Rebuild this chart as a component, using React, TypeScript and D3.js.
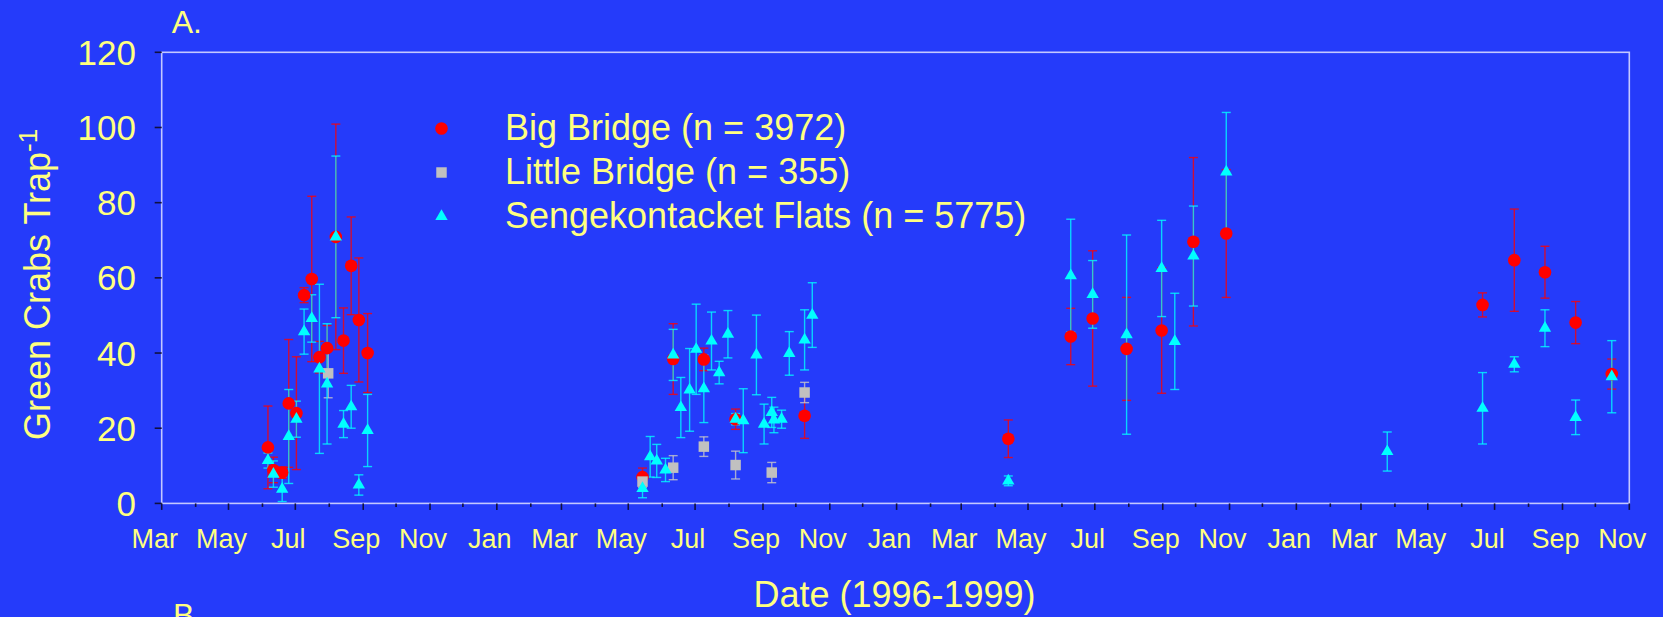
import React, { useEffect } from 'react';
import * as d3 from 'd3';

// Big Bridge
const bbDates = ['1996-06-06', '1996-06-11', '1996-06-19', '1996-06-25', '1996-07-02', '1996-07-09', '1996-07-16', '1996-07-23', '1996-07-30', '1996-08-07', '1996-08-14', '1996-08-21', '1996-08-28', '1996-09-05', '1997-05-14', '1997-06-11', '1997-07-09', '1997-08-07', '1997-10-09', '1998-04-13', '1998-06-09', '1998-06-29', '1998-07-30', '1998-08-31', '1998-09-29', '1998-10-29', '1999-06-20', '1999-07-19', '1999-08-16', '1999-09-13', '1999-10-16'];
const bbMean = [14.9, 8.9, 8.2, 26.6, 24.0, 55.4, 59.7, 38.9, 41.3, 70.9, 43.3, 63.2, 48.8, 40.0, 7.0, 38.4, 38.3, 22.4, 23.3, 17.2, 44.4, 49.2, 41.1, 46.0, 69.6, 71.8, 52.8, 64.7, 61.5, 48.1, 34.4];
const bbErr = [11, 3.4, 1.5, 17, 15, 2, 22, 4.2, 6, 30, 8.7, 13, 16.5, 10.5, 2.4, 9.4, 3, 2.7, 6, 5, 7.5, 18, 13.7, 16.7, 22.4, 17, 3.2, 13.6, 6.9, 5.6, 4];

// Little Bridge
const lbDates = ['1996-07-31', '1997-05-14', '1997-06-11', '1997-07-09', '1997-08-07', '1997-09-09', '1997-10-09'];
const lbMean = [34.6, 5.8, 9.5, 15.1, 10.2, 8.2, 29.5];
const lbErr = [6.5, 1.5, 3.2, 2.6, 3.7, 2.7, 2.7];

// Sengekontacket Flats
const sfDates = ['1996-06-06', '1996-06-11', '1996-06-19', '1996-06-25', '1996-07-02', '1996-07-09', '1996-07-16', '1996-07-23', '1996-07-30', '1996-08-07', '1996-08-14', '1996-08-21', '1996-08-28', '1996-09-05', '1997-05-14', '1997-05-21', '1997-05-27', '1997-06-04', '1997-06-11', '1997-06-18', '1997-06-26', '1997-07-02', '1997-07-09', '1997-07-16', '1997-07-23', '1997-07-31', '1997-08-07', '1997-08-14', '1997-08-26', '1997-09-02', '1997-09-09', '1997-09-11', '1997-09-18', '1997-09-25', '1997-10-09', '1997-10-16', '1998-04-13', '1998-06-09', '1998-06-29', '1998-07-30', '1998-08-31', '1998-09-12', '1998-09-29', '1998-10-29', '1999-03-25', '1999-06-20', '1999-07-19', '1999-08-16', '1999-09-13', '1999-10-16'];
const sfMean = [11.4, 7.8, 3.8, 17.8, 22.4, 45.7, 49.2, 35.8, 31.8, 70.9, 21.1, 25.7, 4.9, 19.4, 4.0, 12.4, 11.3, 8.9, 39.5, 25.5, 30.2, 41.0, 30.5, 43.2, 34.8, 45.0, 22.4, 22.0, 39.5, 21.1, 24.2, 22.2, 22.4, 39.9, 43.5, 50.1, 6.0, 60.6, 55.6, 44.9, 62.5, 43.1, 65.8, 88.2, 13.8, 25.3, 37.0, 46.6, 22.9, 33.7];
const sfErr = [2, 3.5, 3.3, 12.5, 4.8, 6, 6.3, 22.5, 16, 21.5, 3.6, 5.7, 2.7, 9.6, 2.5, 5.4, 4.4, 3.1, 6.8, 8, 11, 12, 9, 7.7, 3, 6.3, 1.5, 8.5, 10.6, 5.3, 4, 3.4, 2.4, 5.8, 8, 8.6, 1.3, 15, 9, 26.5, 12.8, 12.8, 13.3, 15.8, 5.2, 9.5, 2, 4.9, 4.6, 9.6];

const yTicks = [0, 20, 40, 60, 80, 100, 120];
const legendLabels = ['Big Bridge (n = 3972)', 'Little Bridge (n = 355)', 'Sengekontacket Flats (n = 5775)'];

const W = 1663;
const H = 617;
const BG = '#253bfa';
const TXT = '#ffff80';
const FONT = '"Liberation Sans", Arial, sans-serif';
const left = 161.7, right = 1629.3, top = 52.3, bottom = 503.4;

const parse = d3.timeParse('%Y-%m-%d');

const x = d3.scaleTime()
  .domain([new Date(1996, 2, 1), new Date(1999, 10, 1)])
  .range([left, right]);
const y = d3.scaleLinear().domain([0, 120]).range([bottom, top]);

const months = d3.timeMonth.range(new Date(1996, 2, 1), new Date(1999, 10, 2));
const fmtMonth = d3.timeFormat('%b');

const series = [
  { dates: bbDates, mean: bbMean, err: bbErr, fill: '#ff0000', bar: '#ff0000', shape: d3.symbolCircle, size: 125 },
  { dates: lbDates, mean: lbMean, err: lbErr, fill: '#c0c0c0', bar: '#c8c8c8', shape: d3.symbolSquare, size: 110 },
  { dates: sfDates, mean: sfMean, err: sfErr, fill: '#00ffff', bar: '#00ffff', shape: d3.symbolTriangle, size: 66 },
];

const ErrorBars = ({ s }) => (
  <g stroke={s.bar} strokeOpacity={0.78} strokeWidth={1.4}>
    {s.dates.map((d, i) => {
      const cx = x(parse(d));
      const y0 = y(Math.max(0, s.mean[i] - s.err[i]));
      const y1 = y(s.mean[i] + s.err[i]);
      return (
        <g key={i}>
          <line x1={cx} x2={cx} y1={y0} y2={y1} />
          <line x1={cx - 4.5} x2={cx + 4.5} y1={y0} y2={y0} />
          <line x1={cx - 4.5} x2={cx + 4.5} y1={y1} y2={y1} />
        </g>
      );
    })}
  </g>
);

const Markers = ({ s }) => {
  const path = d3.symbol(s.shape, s.size)();
  return (
    <g fill={s.fill}>
      {s.dates.map((d, i) => (
        <path key={i} d={path} transform={`translate(${x(parse(d))},${y(s.mean[i])})`} />
      ))}
    </g>
  );
};

export default function App() {
  useEffect(() => {
    document.body.style.margin = '0';
    document.body.style.background = BG;
  }, []);

  return (
    <svg width={W} height={H} style={{ display: 'block', background: BG }} fontFamily={FONT}>
      <rect width={W} height={H} fill={BG} />
      <text x={171.7} y={33} fontSize={32} fill={TXT}>A.</text>
      <text x={173} y={626} fontSize={32} fill={TXT}>B.</text>

      {/* frame */}
      <rect x={left} y={top} width={right - left} height={bottom - top} fill="none" stroke="#c4c8ff" strokeWidth={1.6} />

      {/* y axis */}
      {yTicks.map(t => (
        <g key={t}>
          <line x1={left - 7} x2={left} y1={y(t)} y2={y(t)} stroke="#101040" strokeWidth={1.6} />
          <text x={136} y={y(t) + 12.5} fontSize={35} fill={TXT} textAnchor="end">{t}</text>
        </g>
      ))}
      <text transform="translate(50,440) rotate(-90)" fontSize={36} fill={TXT}>
        Green Crabs Trap<tspan fontSize={26} dy={-13}>-1</tspan>
      </text>

      {/* x axis */}
      {months.map((m, i) => {
        const major = m.getMonth() % 2 === 0;
        const mx = x(m);
        return (
          <g key={i}>
            <line x1={mx} x2={mx} y1={bottom} y2={bottom + (major ? 6.5 : 3.5)} stroke="#101040" strokeWidth={1.6} />
            {major && (
              <text x={mx - 7} y={548} fontSize={27} fill={TXT} textAnchor="middle">{fmtMonth(m)}</text>
            )}
          </g>
        );
      })}
      <text x={(left + right) / 2 - 1} y={607} fontSize={36} fill={TXT} textAnchor="middle">Date (1996-1999)</text>

      {/* data */}
      {series.map((s, i) => <ErrorBars key={i} s={s} />)}
      {series.map((s, i) => <Markers key={i} s={s} />)}

      {/* legend */}
      {series.map((s, i) => {
        const ly = 140 + i * 44;
        const path = d3.symbol(s.shape, s.size)();
        return (
          <g key={i}>
            <path d={path} fill={s.fill} transform={`translate(441.5,${ly - 11.5})`} />
            <text x={505} y={ly} fontSize={36} fill={TXT}>{legendLabels[i]}</text>
          </g>
        );
      })}
    </svg>
  );
}
